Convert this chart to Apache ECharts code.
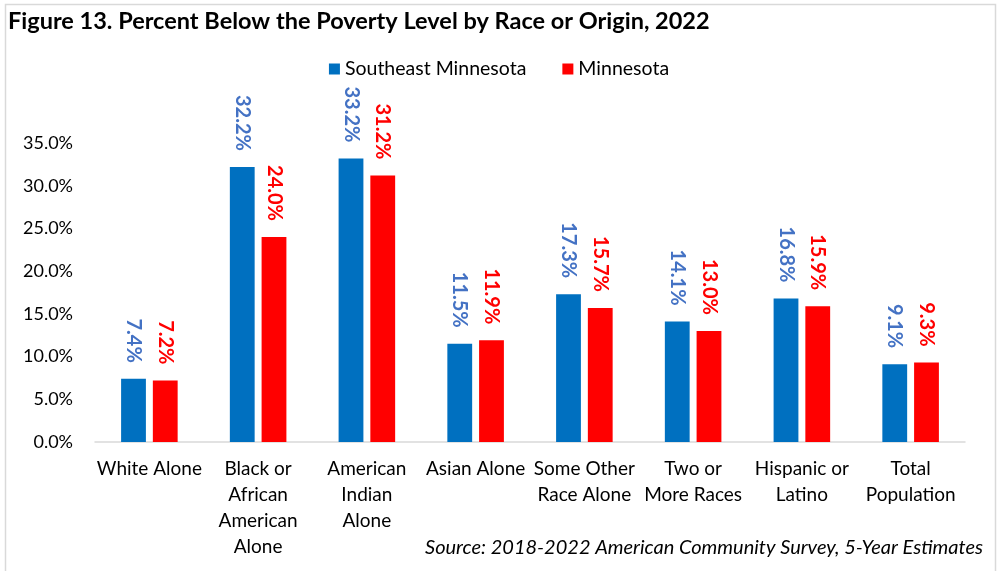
<!DOCTYPE html>
<html>
<head>
<meta charset="utf-8">
<script src="https://cdn.jsdelivr.net/npm/echarts@6/dist/echarts.min.js"></script>
<style>
html,body{margin:0;padding:0;background:#fff;}
#chart{width:998px;height:571px;}
</style>
</head>
<body>
<div id="chart"></div>
<script>
var categories = ['White Alone', 'Black or\nAfrican\nAmerican\nAlone', 'American\nIndian\nAlone', 'Asian Alone', 'Some Other\nRace Alone', 'Two or\nMore Races', 'Hispanic or\nLatino', 'Total\nPopulation'];
var southeastMN = [7.4, 32.2, 33.2, 11.5, 17.3, 14.1, 16.8, 9.1];
var minnesota = [7.2, 24.0, 31.2, 11.9, 15.7, 13.0, 15.9, 9.3];
var yTicks = [0, 5, 10, 15, 20, 25, 30, 35];

var FONT = 'Lato';
var chart = echarts.init(document.getElementById('chart'));
chart.setOption({
  animation: false,
  backgroundColor: '#fff',
  textStyle: { fontFamily: FONT },
  graphic: [{
    type: 'rect', left: 3, top: 2,
    shape: { x: 0, y: 0, width: 990, height: 600 },
    style: { fill: 'none', stroke: '#d9d9d9', lineWidth: 1.5 }
  }, {
    type: 'text', left: 8, top: 9,
    style: { text: 'Figure 13. Percent Below the Poverty Level by Race or Origin, 2022', font: 'bold 23.5px ' + FONT, fill: '#000' }
  }, {
    type: 'text', right: 15, top: 538,
    style: { text: 'Source: 2018-2022 American Community Survey, 5-Year Estimates', font: 'italic 20px ' + FONT, fill: '#000' }
  }],
  legend: {
    top: 54, left: 'center',
    itemWidth: 11, itemHeight: 11, itemGap: 36,
    icon: 'rect',
    textStyle: { fontSize: 19.5, color: '#000', fontFamily: FONT },
    data: ['Southeast Minnesota', 'Minnesota']
  },
  grid: { left: 95, right: 33, top: 143, bottom: 129 },
  xAxis: {
    type: 'category',
    data: categories,
    axisLine: { lineStyle: { color: '#d9d9d9', width: 1.5 } },
    axisTick: { show: false },
    axisLabel: { interval: 0, color: '#000', fontSize: 19, lineHeight: 26, margin: 14, fontFamily: FONT }
  },
  yAxis: {
    type: 'value', min: 0, max: 35, interval: 5,
    splitLine: { show: false },
    axisLine: { show: false },
    axisTick: { show: false },
    axisLabel: {
      color: '#000', fontSize: 18, margin: 22, fontFamily: FONT,
      formatter: function (v) { return yTicks.indexOf(v) >= 0 ? v.toFixed(1) + '%' : ''; }
    }
  },
  series: [{
    name: 'Southeast Minnesota', type: 'bar', data: southeastMN,
    itemStyle: { color: '#0070C0' },
    barGap: '28%', barCategoryGap: '48%',
    label: {
      show: true, position: 'top', distance: 16, rotate: -90,
      align: 'right', verticalAlign: 'middle',
      color: '#4472C4', fontSize: 20, fontWeight: 'bold', fontFamily: FONT,
      formatter: function (p) { return p.value.toFixed(1) + '%'; }
    }
  }, {
    name: 'Minnesota', type: 'bar', data: minnesota,
    itemStyle: { color: '#FF0000' },
    label: {
      show: true, position: 'top', distance: 16, rotate: -90,
      align: 'right', verticalAlign: 'middle',
      color: '#FF0000', fontSize: 20, fontWeight: 'bold', fontFamily: FONT,
      formatter: function (p) { return p.value.toFixed(1) + '%'; }
    }
  }]
});
</script>
</body>
</html>
